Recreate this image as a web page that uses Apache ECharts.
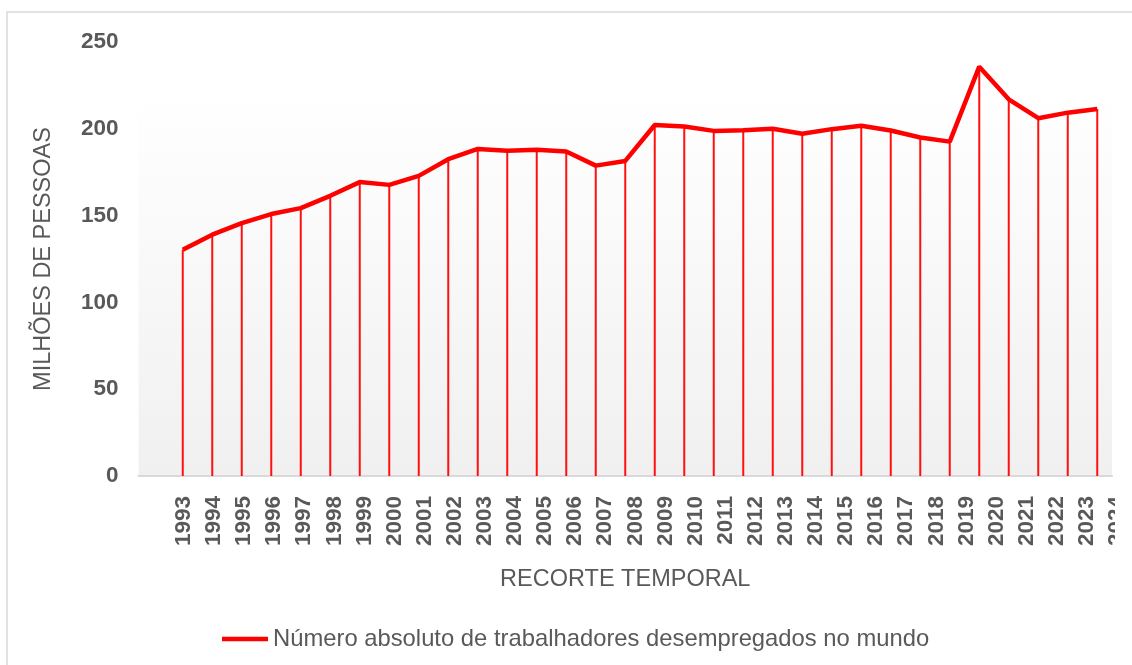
<!DOCTYPE HTML>
<html>
<head>
    <meta charset="utf-8">
    <title>Desemprego no mundo</title>
    <script src="https://cdn.jsdelivr.net/npm/echarts@6.0.0/dist/echarts.min.js"></script>
    <style>
        html, body { margin: 0; padding: 0; background: #fff; }
        #main { width: 1132px; height: 665px; }
    </style>
</head>
<body>
<div id="main"></div>
<script type="text/javascript">

    // anos (categorias)
    var years = ['1993', '1994', '1995', '1996', '1997', '1998', '1999', '2000',
        '2001', '2002', '2003', '2004', '2005', '2006', '2007', '2008',
        '2009', '2010', '2011', '2012', '2013', '2014', '2015', '2016',
        '2017', '2018', '2019', '2020', '2021', '2022', '2023', '2024'];

    // milhoes de pessoas desempregadas
    var values = [130.3, 139.0, 145.7, 150.9, 154.3, 161.4, 169.3, 167.7,
        172.9, 182.5, 188.4, 187.3, 187.9, 186.9, 178.8, 181.5,
        202.2, 201.3, 198.8, 199.2, 200.0, 197.1, 199.8, 201.8,
        199.0, 195.0, 192.6, 235.8, 217.0, 206.1, 209.3, 211.4];

    var yTicks = [0, 50, 100, 150, 200, 250];

    var seriesName = 'Número absoluto de trabalhadores desempregados no mundo';
    var font = '"Liberation Sans", Arial, sans-serif';
    var grey = '#595959';

    // o eixo de dados tem uma categoria vazia no inicio
    var plotCats = [''].concat(years);
    var plotData = [null].concat(values);
    var labelCats = [''].concat(years);

    var chart = echarts.init(document.getElementById('main'));

    var option = {
        backgroundColor: '#fff',
        animation: false,
        textStyle: { fontFamily: font },
        graphic: [
            {
                type: 'rect',
                shape: { x: 7, y: 12, width: 1150, height: 680 },
                style: { fill: 'none', stroke: '#d9d9d9', lineWidth: 1.5 },
                z: 0
            },
            {
                type: 'rect',
                shape: { x: 1115, y: 480, width: 17, height: 90 },
                style: { fill: '#fff' },
                z: 100
            }
        ],
        grid: [
            {
                left: 138.5, right: 20, top: 42, bottom: 189,
                show: true,
                borderWidth: 0,
                backgroundColor: new echarts.graphic.LinearGradient(0, 0, 0, 1, [
                    { offset: 0, color: '#ffffff' },
                    { offset: 0.12, color: '#ffffff' },
                    { offset: 1, color: '#f0f0f0' }
                ])
            },
            { left: 138.65, right: -4.2, top: 42, bottom: 189 }
        ],
        legend: {
            data: [{ name: seriesName, icon: 'rect' }],
            left: 217,
            top: 622,
            itemWidth: 46,
            itemHeight: 4.5,
            itemGap: 6,
            itemStyle: { color: '#ff0000' },
            textStyle: { fontSize: 23.8, color: grey, fontFamily: font }
        },
        xAxis: [
            {
                type: 'category',
                gridIndex: 0,
                data: plotCats,
                boundaryGap: true,
                axisLine: { lineStyle: { color: '#d9d9d9', width: 2 } },
                axisTick: { show: false },
                axisLabel: { show: false },
                name: 'RECORTE TEMPORAL',
                nameLocation: 'middle',
                nameGap: 92,
                nameTextStyle: { fontSize: 23.5, color: grey, fontFamily: font }
            },
            {
                type: 'category',
                gridIndex: 1,
                data: labelCats,
                boundaryGap: true,
                axisLine: { show: false },
                axisTick: { show: false },
                axisLabel: {
                    rotate: 90,
                    margin: 20,
                    interval: 0,
                    fontSize: 22.5,
                    fontWeight: 'bold',
                    color: grey,
                    fontFamily: font
                }
            }
        ],
        yAxis: [
            {
                type: 'value',
                gridIndex: 0,
                min: yTicks[0],
                max: yTicks[yTicks.length - 1],
                interval: 50,
                axisLine: { show: false },
                axisTick: { show: false },
                splitLine: { show: false },
                axisLabel: {
                    margin: 20,
                    fontSize: 22.5,
                    fontWeight: 'bold',
                    color: grey,
                    fontFamily: font
                },
                name: 'MILHÕES DE PESSOAS',
                nameLocation: 'middle',
                nameGap: 83,
                nameTextStyle: { fontSize: 23.5, color: grey, fontFamily: font }
            },
            {
                type: 'value',
                gridIndex: 1,
                show: false,
                min: 0,
                max: 250
            }
        ],
        series: [
            {
                // linhas de queda
                type: 'bar',
                xAxisIndex: 0,
                yAxisIndex: 0,
                data: plotData,
                barWidth: 2,
                itemStyle: { color: '#ff1010' },
                silent: true
            },
            {
                name: seriesName,
                type: 'line',
                xAxisIndex: 0,
                yAxisIndex: 0,
                data: plotData,
                symbol: 'none',
                connectNulls: false,
                lineStyle: { color: '#ff0000', width: 4.5 },
                itemStyle: { color: '#ff0000' }
            }
        ]
    };

    chart.setOption(option);

</script>
</body>
</html>
